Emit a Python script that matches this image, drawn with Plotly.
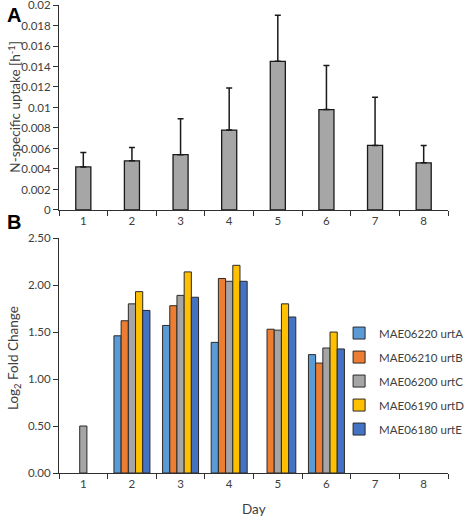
import plotly.graph_objects as go

days = ["1", "2", "3", "4", "5", "6", "7", "8"]

# Panel A: N-specific uptake [h^-1]
uptake = [0.0042, 0.0048, 0.0054, 0.0078, 0.0145, 0.0098, 0.0063, 0.0046]
uptake_err = [0.0014, 0.0013, 0.0035, 0.0041, 0.0045, 0.0043, 0.0047, 0.0017]
a_tickvals = [0, 0.002, 0.004, 0.006, 0.008, 0.01, 0.012, 0.014, 0.016, 0.018, 0.02]
a_ticktext = ["0", "0.002", "0.004", "0.006", "0.008", "0.01", "0.012", "0.014", "0.016", "0.018", "0.02"]

# Panel B: Log2 fold change per gene
genes = ["MAE06220 urtA", "MAE06210 urtB", "MAE06200 urtC", "MAE06190 urtD", "MAE06180 urtE"]
urtA = [None, 1.46, 1.57, 1.39, None, 1.26, None, None]
urtB = [None, 1.62, 1.78, 2.07, 1.53, 1.17, None, None]
urtC = [0.50, 1.80, 1.89, 2.04, 1.52, 1.33, None, None]
urtD = [None, 1.93, 2.14, 2.21, 1.80, 1.50, None, None]
urtE = [None, 1.73, 1.87, 2.04, 1.66, 1.32, None, None]
series = [urtA, urtB, urtC, urtD, urtE]
colors = ["#5B9BD5", "#ED7D31", "#A5A5A5", "#FFC000", "#4472C4"]

FONT = "Lato"
TXT = "#404040"
AX = "#303030"

fig = go.Figure()

fig.add_trace(go.Bar(
    x=days, y=uptake, xaxis="x", yaxis="y", width=0.31,
    marker=dict(color="#A6A6A6", line=dict(color="#1a1a1a", width=1.3)),
    error_y=dict(type="data", symmetric=False, array=uptake_err,
                 arrayminus=[0] * len(uptake_err), color="#1a1a1a",
                 thickness=1.5, width=3),
    showlegend=False,
))

for name, vals, col in zip(genes, series, colors):
    fig.add_trace(go.Bar(
        x=days, y=vals, name=name, xaxis="x2", yaxis="y2",
        legendgroup=name,
        marker=dict(color=col, line=dict(color="#2a2a2a", width=1)),
    ))

axis_common = dict(showline=True, linecolor=AX, linewidth=1, showgrid=False,
                   zeroline=False, ticks="outside", ticklen=5, tickcolor=AX,
                   automargin=False, ticklabeloverflow="allow",
                   tickfont=dict(family=FONT, size=11.5, color=TXT))

title_font = dict(family=FONT, size=13.5, color=TXT)

fig.update_layout(
    width=472, height=518,
    margin=dict(l=59, r=2, t=5, b=45),
    paper_bgcolor="white", plot_bgcolor="white",
    barmode="group", bargap=0.26, bargroupgap=0,
    font=dict(family=FONT, size=12, color=TXT),
    xaxis=dict(domain=[0, 1], anchor="y", type="category", range=[-0.5, 7.5],
               tickson="boundaries", **axis_common),
    yaxis=dict(domain=[0.562, 1], anchor="x", range=[0, 0.02],
               tickvals=a_tickvals, ticktext=a_ticktext, **axis_common),
    xaxis2=dict(domain=[0, 1], anchor="y2", type="category", range=[-0.5, 7.5],
                tickson="boundaries", **axis_common),
    yaxis2=dict(domain=[0, 0.502], anchor="x2", range=[0, 2.5], dtick=0.5,
                tickformat=".2f", **axis_common),
    legend=dict(x=0.72, y=0.33, xanchor="left", yanchor="top",
                font=dict(family=FONT, size=11.5, color=TXT),
                tracegroupgap=5, itemwidth=30, bgcolor="rgba(0,0,0,0)",
                traceorder="grouped"),
    annotations=[
        dict(text="<b>A</b>", x=-0.138, y=1.006, xref="paper", yref="paper",
             xanchor="left", yanchor="top", showarrow=False,
             font=dict(family="Liberation Sans", size=20, color="black")),
        dict(text="<b>B</b>", x=-0.138, y=0.564, xref="paper", yref="paper",
             xanchor="left", yanchor="top", showarrow=False,
             font=dict(family="Liberation Sans", size=20, color="black")),
        dict(text="N-specific uptake [h<sup>-1</sup>]", x=-0.114, y=0.782,
             xref="paper", yref="paper", textangle=-90, showarrow=False,
             xanchor="center", yanchor="middle", font=title_font),
        dict(text="Log<sub>2</sub> Fold Change", x=-0.114, y=0.245,
             xref="paper", yref="paper", textangle=-90, showarrow=False,
             xanchor="center", yanchor="middle", font=title_font),
        dict(text="Day", x=0.5, y=-0.077, xref="paper", yref="paper",
             showarrow=False, xanchor="center", yanchor="middle", font=title_font),
    ],
)

fig.write_html("out.html", config={"displayModeBar": False},
               post_script="document.body.style.margin='0';document.body.style.overflow='hidden';")
